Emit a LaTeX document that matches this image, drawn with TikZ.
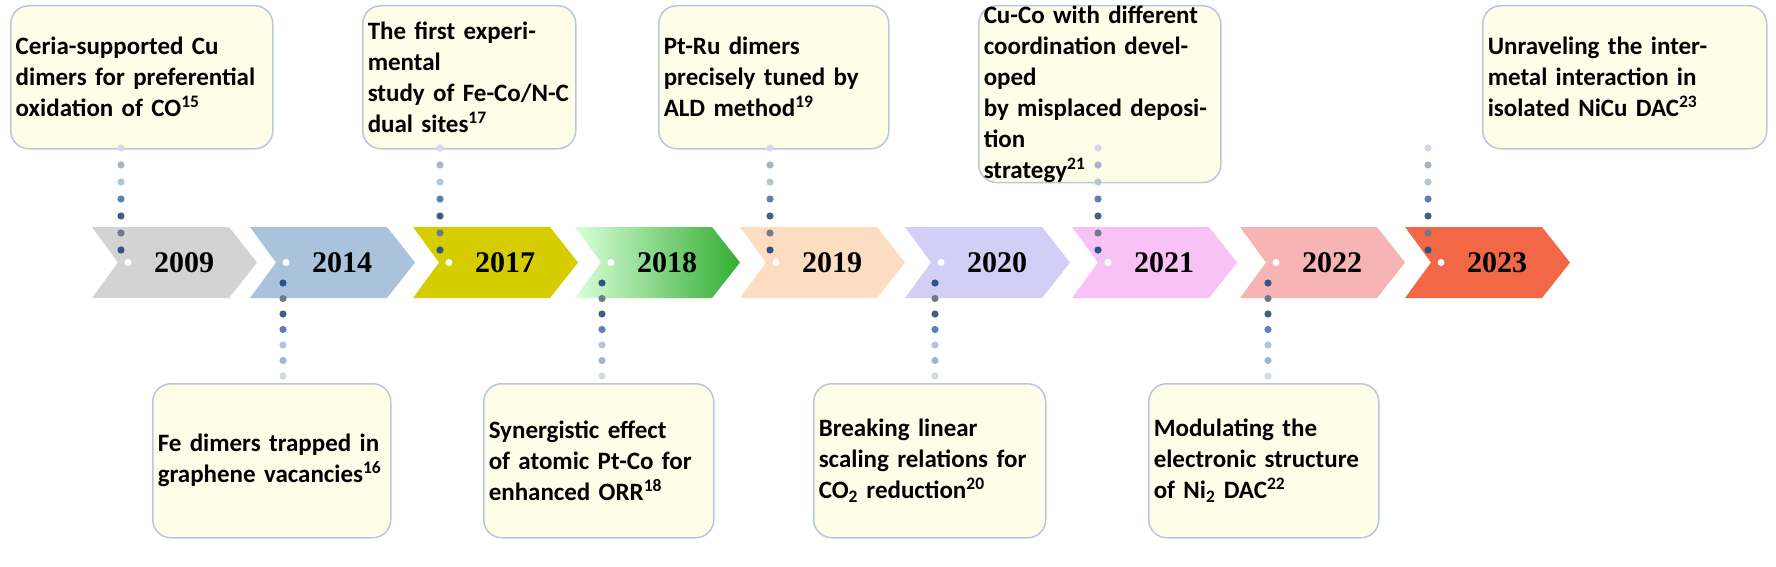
\documentclass[tikz,border=0pt]{standalone}
\usepackage{fontspec}
\setmainfont{Carlito}
\newfontfamily\yearfont{Liberation Serif}
\definecolor{boxfill}{HTML}{FEFDE8}
\definecolor{boxline}{HTML}{B8C8DC}
\definecolor{d0}{HTML}{D5D8E5}
\definecolor{d1}{HTML}{A6B4C8}
\definecolor{d2}{HTML}{B4C6D6}
\definecolor{d3}{HTML}{5B82B4}
\definecolor{d4}{HTML}{3D5F8A}
\definecolor{d5}{HTML}{6E7A88}
\definecolor{d6}{HTML}{2F5289}
\tikzset{every picture/.style={line width=0.75pt}}
\tikzset{
  event/.style={draw=boxline, line width=1.5pt, fill=boxfill, rounded corners=18pt,
    align=left, inner xsep=5pt, inner ysep=0pt, anchor=north west,
    font=\fontsize{25}{31}\selectfont\bfseries},
  year/.style={font=\fontsize{30}{30}\selectfont\yearfont\bfseries}
}
\newcommand{\chev}[3]{% left x, colour, name
  \fill[#2] (#1,227) -- (#1+137,227) -- (#1+165,262.5) -- (#1+137,298) -- (#1,298) -- (#1+26,262.5) -- cycle;
  \fill[white] (#1+36,262.5) circle (3.5);
  \node[year] (#3) at (#1+92,262.5) {#3};
}
\newcommand{\dotcol}[3]{% x, first y, step
  \foreach \i in {0,...,6}
    \fill[d\i] (#1,#2+\i*#3) circle (3.6);
}
\definecolor{cA}{HTML}{D3D3D3}
\definecolor{cB}{HTML}{ABC2DD}
\definecolor{cC}{HTML}{D6CD00}
\definecolor{cE}{HTML}{FDDDC2}
\definecolor{cF}{HTML}{D2CEF6}
\definecolor{cG}{HTML}{F9C2F7}
\definecolor{cH}{HTML}{F7B4B4}
\definecolor{cI}{HTML}{F26846}

\begin{document}
\begin{tikzpicture}[x=1pt,y=1pt,yscale=-1]
    \useasboundingbox (0,0) rectangle (1776,567);

    % timeline
    \chev{92}{cA}{2009}
    \chev{250}{cB}{2014}
    \chev{413}{cC}{2017}
    \shade[left color=green!15, right color=green!60!black!80!white]
      (575,227) -- (712,227) -- (740,262.5) -- (712,298) -- (575,298) -- (601,262.5) -- cycle;
    \fill[white] (611,262.5) circle (3.5);
    \node[year] (2018) at (667,262.5) {2018};
    \chev{740}{cE}{2019}
    \chev{905}{cF}{2020}
    \chev{1072}{cG}{2021}
    \chev{1240}{cH}{2022}
    \chev{1405}{cI}{2023}

    % upper events
    \node[event, text width=252pt, minimum height=143pt] (cu) at (10,5)
      {Ceria-supported Cu\\dimers for preferential\\oxidation of CO\textsuperscript{15}};
    \node[event, text width=203pt, minimum height=143pt] (feco) at (362,5)
      {The first experimental\\study of Fe-Co/N-C\\dual sites\textsuperscript{17}};
    \node[event, text width=220pt, minimum height=143pt] (ptru) at (658,5)
      {Pt-Ru dimers\\precisely tuned by\\ALD method\textsuperscript{19}};
    \node[event, text width=232pt, minimum height=143pt] (cuco) at (978,5)
      {Cu-Co with different\\coordination developed\\by misplaced deposition\\strategy\textsuperscript{21}};
    \node[event, text width=274pt, minimum height=143pt] (nicu) at (1482,5)
      {Unraveling the inter-\\metal interaction in\\isolated NiCu DAC\textsuperscript{23}};

    % lower events
    \node[event, text width=228pt, minimum height=154pt] (fe) at (152,383)
      {Fe dimers trapped in\\graphene vacancies\textsuperscript{16}};
    \node[event, text width=220pt, minimum height=154pt] (ptco) at (483,383)
      {Synergistic effect\\of atomic Pt-Co for\\enhanced ORR\textsuperscript{18}};
    \node[event, text width=222pt, minimum height=154pt] (co2) at (813,383)
      {Breaking linear\\scaling relations for\\CO\textsubscript{2} reduction\textsuperscript{20}};
    \node[event, text width=220pt, minimum height=154pt] (ni) at (1148,383)
      {Modulating the\\electronic structure\\of Ni\textsubscript{2} DAC\textsuperscript{22}};

    % dotted links
    \foreach \x in {121,440,770,1098,1428} {\dotcol{\x}{148}{17}}
    \foreach \x in {283,602,935,1268} {\dotcol{\x}{376}{-15.5}}
\end{tikzpicture}
\end{document}
